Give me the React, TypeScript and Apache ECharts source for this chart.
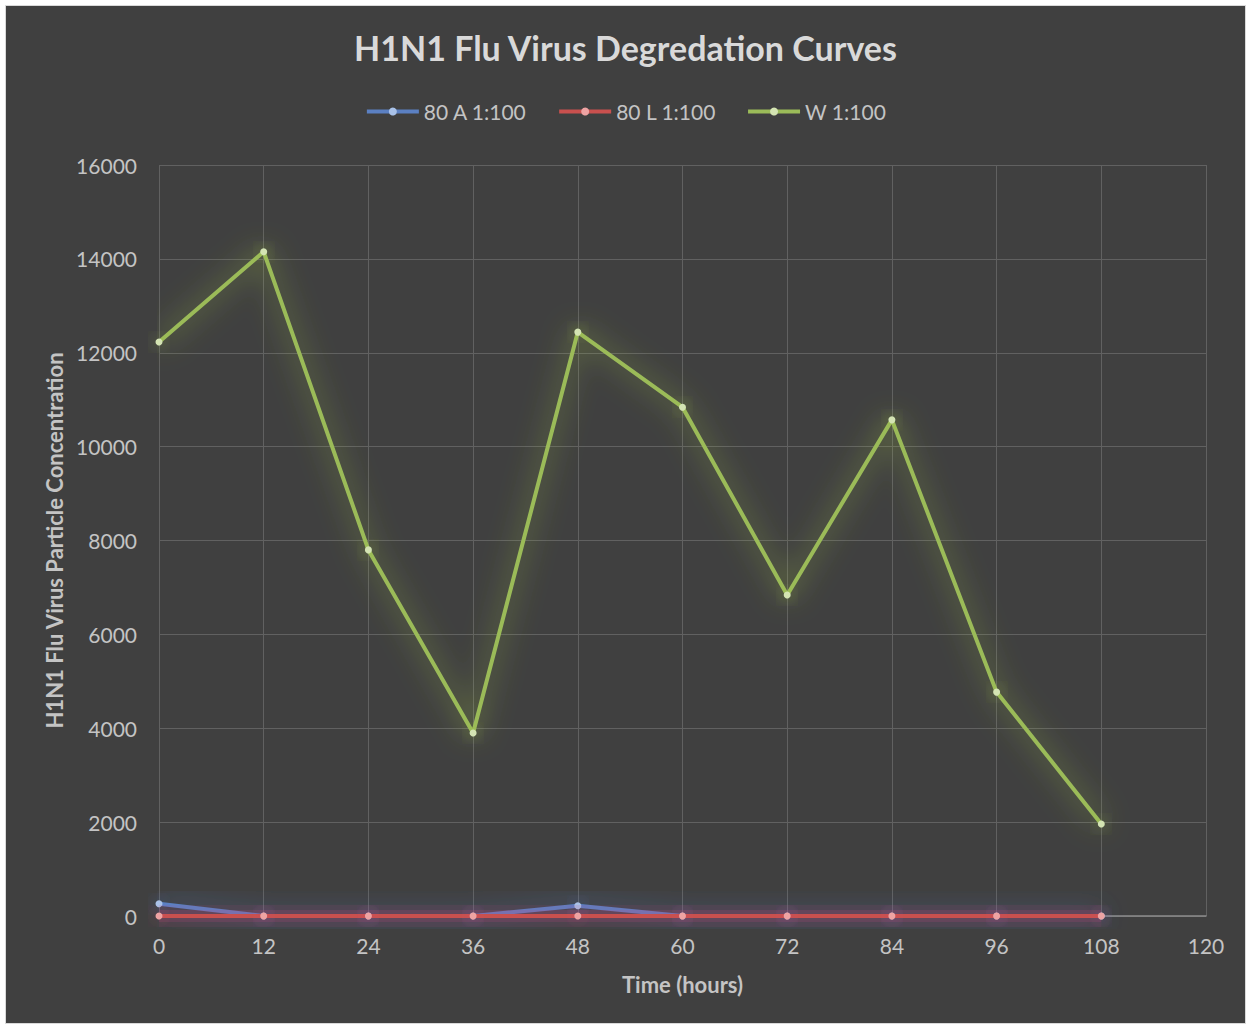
import React, { useEffect, useRef } from "react";
import * as echarts from "echarts";

const hours = [0, 12, 24, 36, 48, 60, 72, 84, 96, 108];
const seriesA = [262, 0, 0, 0, 220, 0, 0, 0, 0, 0];
const seriesL = [0, 0, 0, 0, 0, 0, 0, 0, 0, 0];
const seriesW = [12230, 14150, 7800, 3900, 12440, 10840, 6840, 10570, 4770, 1960];
const seriesNames = ["80 A 1:100", "80 L 1:100", "W 1:100"];
const lineColors = ["#5b80c2", "#c9504e", "#9bbb59"];
const markerColors = ["#a9c2e8", "#eea3a3", "#d4e4b3"];
const glowColors = ["rgba(80,130,220,0.9)", "rgba(210,70,130,0.85)", "rgba(165,200,70,0.95)"];

const FONT = "Lato, 'Open Sans', sans-serif";

export default function App() {
  const ref = useRef<HTMLDivElement>(null);
  useEffect(() => {
    if (!ref.current) return;
    const chart = echarts.init(ref.current, undefined, { renderer: "svg" });
    const datas = [seriesA, seriesL, seriesW];
    const zs = [3, 6, 4];
    const mainSeries = datas.map((d, i) => ({
      name: seriesNames[i],
      type: "line",
      z: zs[i],
      clip: false,
      data: hours.map((h, j) => [h, d[j]]),
      symbol: "circle",
      symbolSize: 7,
      showSymbol: true,
      lineStyle: {
        color: lineColors[i],
        width: 4,
        // a flat line has a zero-height box, where an SVG filter would hide it
        shadowBlur: i === 1 ? 0 : 28,
        shadowColor: i === 1 ? "transparent" : glowColors[i],
      },
      itemStyle: {
        color: markerColors[i],
        borderWidth: 0,
        shadowBlur: 16,
        shadowColor: glowColors[i],
      },
      emphasis: { disabled: true },
    }));
    const haloLayers = [
      { width: 22, alpha: 0.1 },
      { width: 12, alpha: 0.18 },
    ];
    const haloSeries = haloLayers.map((h, k) => ({
      name: "80 L glow " + k,
      type: "line",
      z: 5,
      clip: false,
      silent: true,
      data: hours.map((x, j) => [x, seriesL[j]]),
      showSymbol: false,
      symbol: "none",
      lineStyle: { color: `rgba(200,70,130,${h.alpha})`, width: h.width },
      emphasis: { disabled: true },
      tooltip: { show: false },
    }));
    chart.setOption({
      animation: false,
      backgroundColor: "#404040",
      textStyle: { fontFamily: FONT },
      title: {
        text: "H1N1 Flu Virus Degredation Curves",
        left: "center",
        top: 19,
        textStyle: { color: "#d9d9d9", fontSize: 34, fontWeight: "bold", fontFamily: FONT },
      },
      legend: {
        top: 90,
        left: "center",
        itemWidth: 52,
        itemHeight: 10,
        itemGap: 30,
        lineStyle: { width: 4 },
        textStyle: { color: "#c4c4c4", fontSize: 21, fontFamily: FONT },
        data: seriesNames,
      },
      grid: { left: 153, right: 39, top: 159, bottom: 107 },
      xAxis: {
        type: "value",
        min: 0,
        max: 120,
        interval: 12,
        name: "Time (hours)",
        nameLocation: "middle",
        nameGap: 57,
        nameTextStyle: { color: "#c4c4c4", fontSize: 22, fontWeight: "bold", fontFamily: FONT },
        axisLine: { lineStyle: { color: "#8c8c8c", width: 1.5 } },
        axisTick: { show: false },
        axisLabel: { color: "#c4c4c4", fontSize: 21, margin: 19, fontFamily: FONT },
        splitLine: { show: true, lineStyle: { color: "#616161", width: 1 } },
      },
      yAxis: {
        type: "value",
        min: 0,
        max: 16000,
        interval: 2000,
        name: "H1N1 Flu Virus Particle Concentration",
        nameLocation: "middle",
        nameGap: 91,
        nameTextStyle: { color: "#c4c4c4", fontSize: 22, fontWeight: "bold", fontFamily: FONT },
        axisLine: { show: false },
        axisTick: { show: false },
        axisLabel: {
          color: "#c4c4c4",
          fontSize: 21,
          margin: 22,
          fontFamily: FONT,
          formatter: (v: number) => String(v),
        },
        splitLine: { show: true, lineStyle: { color: "#616161", width: 1 } },
      },
      series: [...mainSeries, ...haloSeries],
    });
    return () => chart.dispose();
  }, []);
  return (
    <div style={{ position: "absolute", left: 0, top: 0, width: 1252, height: 1029, background: "#ffffff" }}>
      <div
        ref={ref}
        style={{
          position: "absolute",
          left: 6,
          top: 6,
          width: 1239,
          height: 1017,
          outline: "1px solid #d9d9d9",
        }}
      />
    </div>
  );
}
